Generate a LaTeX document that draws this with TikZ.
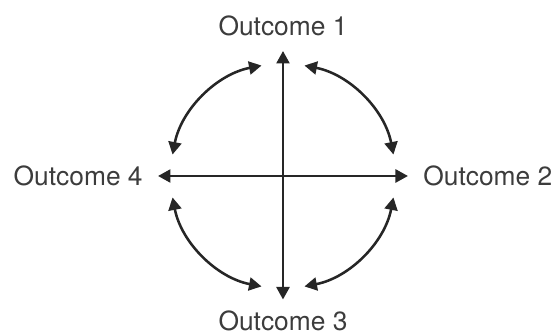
\documentclass[tikz,border=0pt]{standalone}
\usepackage{fontspec}
\setmainfont{TeX Gyre Heros}
\usepackage{tikz}
\usetikzlibrary{arrows.meta,positioning}
\definecolor{inkgray}{HTML}{262626}

\begin{document}
\begin{tikzpicture}[
			lbl/.style={inner sep=0.1cm,font=\fontsize{15}{18}\selectfont,text=inkgray!90},
			arr/.style={{Triangle[length=0.25cm,width=0.26cm]}-{Triangle[length=0.25cm,width=0.26cm]},line width=1.45pt,inkgray},
			gap/.style={shorten <=0.2cm,shorten >=0.2cm}
			]
			\useasboundingbox (-5.66,-3.16) rectangle (5.44,3.52);
			\coordinate (c) at (0,0);
			\node[lbl,anchor=south] (o1) at (0,2.7) {Outcome 1};
			\node[lbl,anchor=west] (o2) at (2.7,0) {Outcome 2};
			\node[lbl,anchor=north,inner ysep=0.02cm] (o3) at (0,-2.67) {Outcome 3};
			\node[lbl,anchor=east] (o4) at (-2.7,0) {Outcome 4};
			\draw[arr,gap] (o3) -- (o1);
			\draw[arr,gap] (o4) -- (o2);
			% curved arrows between neighbouring outcomes
			\foreach \a in {0,90,180,270}
				\draw[arr] ([shift={(\a+11:2.25)}]c) arc[start angle=\a+11,end angle=\a+79,radius=2.25];
		\end{tikzpicture}
\end{document}
